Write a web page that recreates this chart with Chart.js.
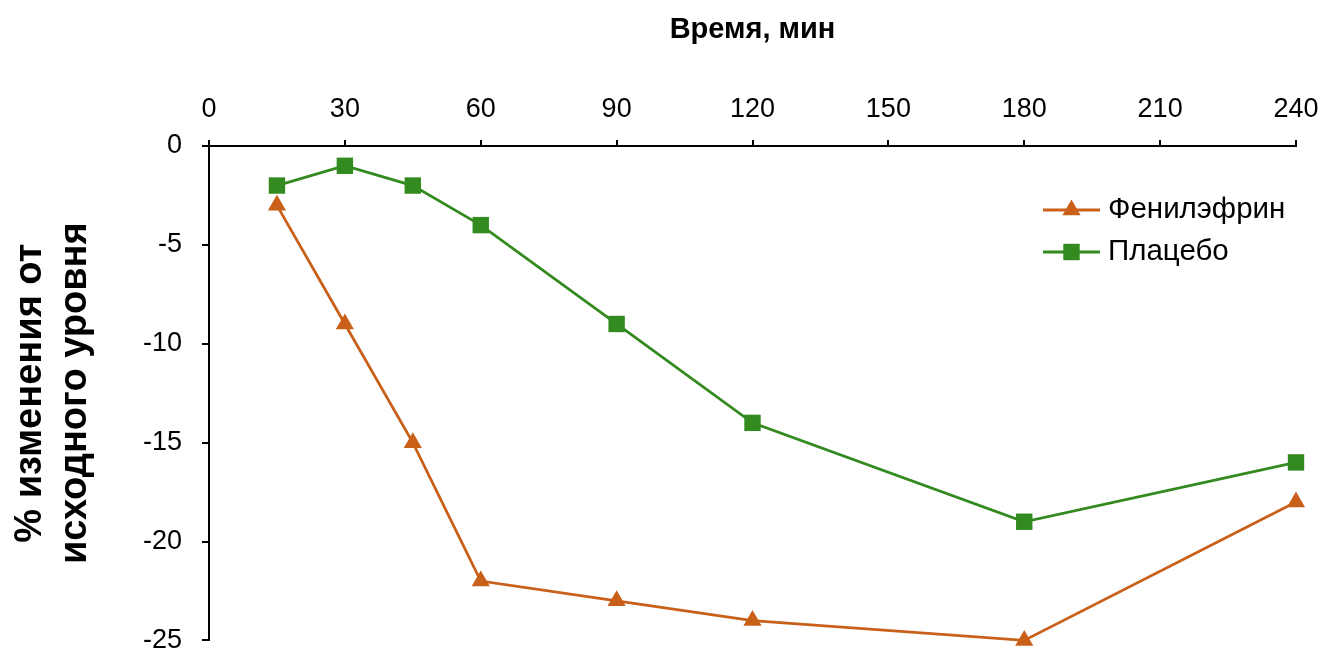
<!DOCTYPE html>
<html lang="ru">
<head>
<meta charset="utf-8">
<title>Время, мин</title>
<script src="https://cdn.jsdelivr.net/npm/chart.js@4/dist/chart.umd.min.js"></script>
<style>
  html, body { margin: 0; padding: 0; background: #ffffff; }
  #wrap { width: 1324px; height: 652px; position: relative; }
</style>
</head>
<body>
<div id="wrap"><canvas id="chart" width="1324" height="652"></canvas></div>
<script>
// Time points (minutes) and % change from baseline for each group
const timeMin = [15, 30, 45, 60, 90, 120, 180, 240];
const phenylephrine = [-3, -9, -15, -22, -23, -24, -25, -18];
const placebo = [-2, -1, -2, -4, -9, -14, -19, -16];
const seriesNames = ['Фенилэфрин', 'Плацебо'];
const xTicks = [0, 30, 60, 90, 120, 150, 180, 210, 240];
const yTicks = [0, -5, -10, -15, -20, -25];
const xTitle = 'Время, мин';
const yTitle = ['% изменения от', 'исходного уровня'];

const FONT = '"Liberation Sans", Arial, Helvetica, sans-serif';
const ORANGE = '#c8601a';
const GREEN = '#338a1f';

const toPoints = vals => timeMin.map((t, i) => ({ x: t, y: vals[i] }));

// Legend drawn inside the plot: line sample with marker, then the label
const innerLegend = {
  id: 'innerLegend',
  afterDatasetsDraw(chart) {
    const ctx = chart.ctx;
    const x0 = 1043, x1 = 1100, textX = 1108;
    chart.data.datasets.forEach((ds, i) => {
      const y = 210 + i * 42;
      ctx.save();
      ctx.strokeStyle = ds.borderColor;
      ctx.lineWidth = ds.borderWidth;
      ctx.beginPath();
      ctx.moveTo(x0, y);
      ctx.lineTo(x1, y);
      ctx.stroke();
      ctx.fillStyle = ds.pointBackgroundColor;
      Chart.helpers.drawPoint(ctx, {
        pointStyle: ds.pointStyle,
        radius: ds.pointRadius,
        rotation: 0,
        borderWidth: 0
      }, (x0 + x1) / 2, y);
      ctx.fillStyle = '#000000';
      ctx.font = '29.5px ' + FONT;
      ctx.textBaseline = 'middle';
      ctx.textAlign = 'left';
      ctx.fillText(ds.label, textX, y);
      ctx.restore();
    });
  }
};

const tickFont = { family: FONT, size: 27, lineHeight: 1.2 };

new Chart(document.getElementById('chart'), {
  type: 'line',
  data: {
    datasets: [
      {
        label: seriesNames[0],
        data: toPoints(phenylephrine),
        borderColor: ORANGE,
        backgroundColor: ORANGE,
        pointBackgroundColor: ORANGE,
        borderWidth: 2.8,
        pointStyle: 'triangle',
        pointRadius: 10.5,
        pointBorderWidth: 0,
        tension: 0,
        clip: false
      },
      {
        label: seriesNames[1],
        data: toPoints(placebo),
        borderColor: GREEN,
        backgroundColor: GREEN,
        pointBackgroundColor: GREEN,
        borderWidth: 2.8,
        pointStyle: 'rect',
        pointRadius: 11.6,
        pointBorderWidth: 0,
        tension: 0,
        clip: false
      }
    ]
  },
  options: {
    responsive: false,
    animation: false,
    events: [],
    layout: { padding: { left: 0, top: 0, right: 28, bottom: 9 } },
    plugins: { legend: { display: false }, tooltip: { enabled: false } },
    scales: {
      x: {
        type: 'linear',
        position: 'top',
        min: xTicks[0],
        max: xTicks[xTicks.length - 1],
        afterBuildTicks: s => { s.ticks = xTicks.map(v => ({ value: v })); },
        afterFit: s => { s.height = 146; s.paddingLeft = 0; s.paddingRight = 0; },
        ticks: { font: tickFont, color: '#000000', padding: 14, maxRotation: 0, autoSkip: false },
        grid: { drawOnChartArea: false, drawTicks: true, tickLength: 6, color: '#000000', lineWidth: 2 },
        border: { display: true, color: '#000000', width: 2 },
        title: {
          display: true,
          text: xTitle,
          color: '#000000',
          font: { family: FONT, size: 29, weight: 'bold', lineHeight: 1.2 },
          padding: { top: 12.5, bottom: 0 }
        }
      },
      y: {
        type: 'linear',
        position: 'left',
        min: yTicks[yTicks.length - 1],
        max: yTicks[0],
        afterBuildTicks: s => { s.ticks = yTicks.slice().reverse().map(v => ({ value: v })); },
        afterFit: s => { s.width = 209; s.paddingTop = 0; s.paddingBottom = 0; },
        ticks: { font: tickFont, color: '#000000', padding: 20, autoSkip: false },
        grid: { drawOnChartArea: false, drawTicks: true, tickLength: 7, color: '#000000', lineWidth: 2 },
        border: { display: true, color: '#000000', width: 2 },
        title: {
          display: true,
          text: yTitle,
          color: '#000000',
          font: { family: FONT, size: 38, weight: 'bold', lineHeight: 45 / 38 },
          padding: { top: 8, bottom: 0 }
        }
      }
    }
  },
  plugins: [innerLegend]
});
</script>
</body>
</html>
